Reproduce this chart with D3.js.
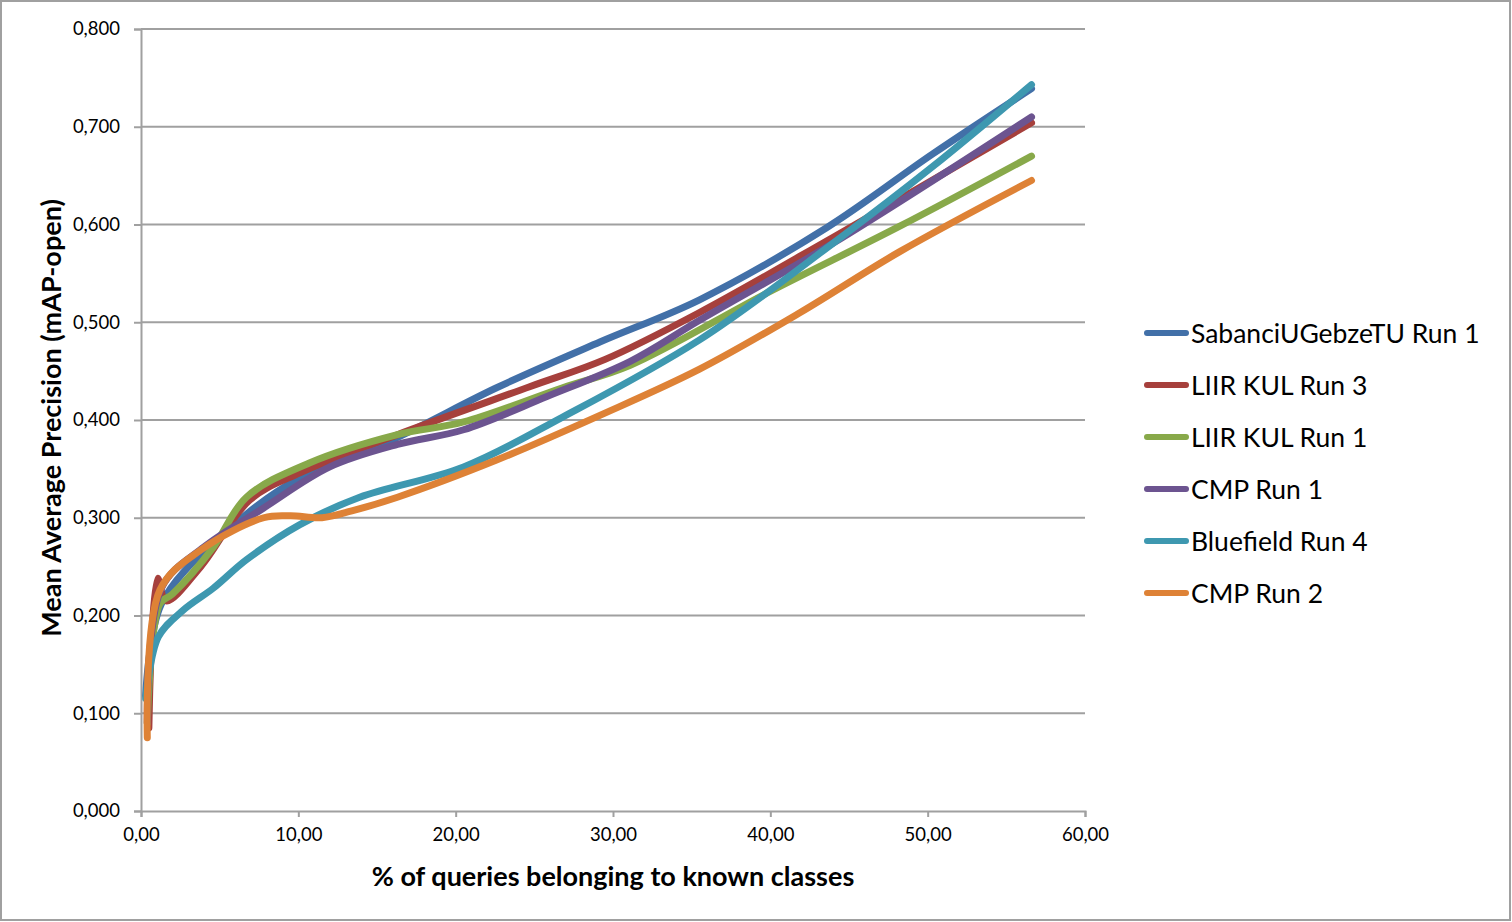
<!DOCTYPE html>
<html><head><meta charset="utf-8">
<script src="https://cdn.jsdelivr.net/npm/d3@7"></script>
<style>body{margin:0;background:#fff}svg{display:block}</style>
</head><body>
<svg id="c" width="1512" height="922"></svg>
<script>
const seriesNames = ["SabanciUGebzeTU Run 1","LIIR KUL Run 3","LIIR KUL Run 1","CMP Run 1","Bluefield Run 4","CMP Run 2"];
const seriesColors = ["#4270a8","#a6403c","#88a94a","#6c5490","#3e98b0","#de8236"];

const sabanciX = [0.3,1.3,5,10,16,22.6,29.2,35.5,43.6,50.3,56.6];
const sabanciY = [0.118,0.212,0.28,0.34,0.38,0.433,0.48,0.523,0.597,0.672,0.739];

const liir3X = [0.5,1.05,1.6,3.8,6.9,10.1,16.3,24.7,29.5,35.5,44,56.6];
const liir3Y = [0.085,0.238,0.215,0.25,0.318,0.346,0.385,0.434,0.462,0.51,0.587,0.704];

const liir1X = [0.4,1.2,2,4.6,6.7,10.7,16.3,20.5,26.8,31.1,39.8,48.2,56.6];
const liir1Y = [0.09,0.212,0.222,0.27,0.321,0.356,0.385,0.398,0.433,0.456,0.530,0.598,0.670];

const cmp1X = [0.4,1.3,4,7.8,12,16.3,20.5,25.8,31.1,35.5,44,56.6];
const cmp1Y = [0.09,0.228,0.27,0.31,0.352,0.375,0.39,0.424,0.46,0.502,0.581,0.710];

const blueX = [0.3,1.1,2.65,4.6,6.7,10.1,13.9,20.5,26.8,35.5,44,50.3,56.6];
const blueY = [0.115,0.178,0.205,0.228,0.257,0.293,0.321,0.352,0.403,0.482,0.581,0.659,0.743];

const cmp2X = [0.4,1.2,3.8,7.8,9.5,11.5,13.4,16.3,22.6,29.2,35.5,41.9,48.2,56.6];
const cmp2Y = [0.075,0.226,0.267,0.30,0.302,0.300,0.307,0.321,0.359,0.405,0.452,0.510,0.572,0.645];

const xTicks = [0,10,20,30,40,50,60];
const yTicks = [0,0.1,0.2,0.3,0.4,0.5,0.6,0.7,0.8];
const xTitle = "% of queries belonging to known classes";
const yTitle = "Mean Average Precision (mAP-open)";

const seriesX = [sabanciX,liir3X,liir1X,cmp1X,blueX,cmp2X];
const seriesY = [sabanciY,liir3Y,liir1Y,cmp1Y,blueY,cmp2Y];

const svg = d3.select("#c");
const font = "Lato, 'Open Sans', sans-serif";
const grey = "#a0a0a0";

svg.append("rect").attr("x",1).attr("y",1).attr("width",1509).attr("height",919)
  .attr("fill","#fff").attr("stroke",grey).attr("stroke-width",2);

const x = d3.scaleLinear().domain([0,60]).range([141,1085]);
const y = d3.scaleLinear().domain([0,0.8]).range([811,29]);

svg.append("g").selectAll("line").data(yTicks.slice(1)).join("line")
  .attr("x1",x(0)).attr("x2",x(60)).attr("y1",d=>y(d)).attr("y2",d=>y(d))
  .attr("stroke",grey).attr("stroke-width",2);

const yAxis = svg.append("g").attr("transform",`translate(${x(0)},0)`)
  .call(d3.axisLeft(y).tickValues(yTicks).tickSize(7).tickPadding(14)
    .tickFormat(d=>d3.format(".3f")(d).replace(".",",")));
const xAxis = svg.append("g").attr("transform",`translate(0,${y(0)})`)
  .call(d3.axisBottom(x).tickValues(xTicks).tickSize(6).tickPadding(11)
    .tickFormat(d=>d3.format(".2f")(d).replace(".",",")));
[yAxis,xAxis].forEach(a=>{
  a.selectAll("path").attr("stroke",grey).attr("stroke-width",2);
  a.selectAll("line").attr("stroke",grey).attr("stroke-width",2);
  a.selectAll("text").attr("font-family",font).attr("font-size",18.5).attr("fill","#000");
});

const line = d3.line().x(d=>x(d[0])).y(d=>y(d[1])).curve(d3.curveCatmullRom.alpha(0.5));
seriesNames.forEach((n,i)=>{
  const pts = seriesX[i].map((v,j)=>[v,seriesY[i][j]]);
  svg.append("path").datum(pts).attr("d",line).attr("fill","none")
    .attr("stroke",seriesColors[i]).attr("stroke-width",7)
    .attr("stroke-linecap","round").attr("stroke-linejoin","round");
});

svg.append("text").attr("x",613).attr("y",886).attr("text-anchor","middle")
  .attr("font-family",font).attr("font-weight","bold").attr("font-size",27).text(xTitle);
svg.append("text").attr("transform","translate(61,418) rotate(-90)").attr("text-anchor","middle")
  .attr("font-family",font).attr("font-weight","bold").attr("font-size",27).text(yTitle);

const lg = svg.append("g");
seriesNames.forEach((n,i)=>{
  const cy = 333 + i*52;
  lg.append("line").attr("x1",1147).attr("x2",1186).attr("y1",cy).attr("y2",cy)
    .attr("stroke",seriesColors[i]).attr("stroke-width",6).attr("stroke-linecap","round");
  lg.append("text").attr("x",1191).attr("y",cy).attr("dy","0.36em")
    .attr("font-family",font).attr("font-size",26.5).text(n);
});
</script>
</body></html>
